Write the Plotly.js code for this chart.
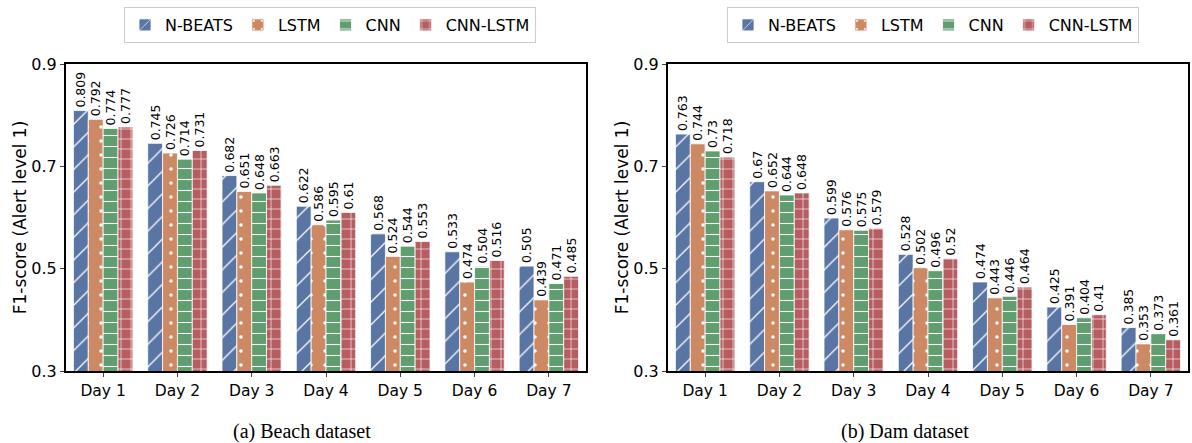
<!DOCTYPE html>
<html><head><meta charset="utf-8">
<script src="https://cdn.plot.ly/plotly-3.0.1.min.js"></script>
<style>body{margin:0;background:#fff}#c{width:1192px;height:443px}</style>
</head><body><div id="c"></div>
<script>
const days = ["Day 1","Day 2","Day 3","Day 4","Day 5","Day 6","Day 7"];
const models = ["N-BEATS","LSTM","CNN","CNN-LSTM"];
const beachNBEATS = [0.809,0.745,0.682,0.622,0.568,0.533,0.505];
const beachLSTM = [0.792,0.726,0.651,0.586,0.524,0.474,0.439];
const beachCNN = [0.774,0.714,0.648,0.595,0.544,0.504,0.471];
const beachCNNLSTM = [0.777,0.731,0.663,0.61,0.553,0.516,0.485];
const damNBEATS = [0.763,0.67,0.599,0.528,0.474,0.425,0.385];
const damLSTM = [0.744,0.652,0.576,0.502,0.443,0.391,0.353];
const damCNN = [0.73,0.644,0.575,0.496,0.446,0.404,0.373];
const damCNNLSTM = [0.718,0.648,0.579,0.52,0.464,0.41,0.361];
const yTicks = [0.3,0.5,0.7,0.9];

const colors = ["#5975A4","#CC8963","#5F9E6E","#B55D60"];
const shapes = ["/",".","-","+"];
const psize = [16,14,11,10];
const psolid = [0.08,0.05,0.1,0.12];
const beach = [beachNBEATS,beachLSTM,beachCNN,beachCNNLSTM];
const dam = [damNBEATS,damLSTM,damCNN,damCNNLSTM];

const traces = [];
function add(sets, xa, ya, leg){
  sets.forEach((vals,i)=>{
    traces.push({
      type:"bar", x:days, y:vals, name:models[i], xaxis:xa, yaxis:ya, legend:leg,
      text:vals.map(v=>String(v)), textposition:"outside", textangle:-90, constraintext:"none",
      textfont:{family:"DejaVu Sans", size:12.5, color:"#000"},
      marker:{color:colors[i], line:{color:"#ffffff", width:0.8},
        pattern:{shape:shapes[i], fgcolor:"#ffffff", bgcolor:colors[i], size:psize[i], solidity:psolid[i]}}
    });
  });
}
add(beach,"x","y","legend");
add(dam,"x2","y2","legend2");

const W = 1192-66-4;
const axisY = {range:[0.3,0.9], tickvals:yTicks, ticktext:yTicks.map(v=>v.toFixed(1)),
  showline:true, linecolor:"#000", linewidth:2, mirror:true, ticks:"outside", ticklen:4,
  showgrid:false, zeroline:false, tickfont:{family:"DejaVu Sans", size:16, color:"#000"},
  title:{text:"F1-score (Alert level 1)", font:{family:"DejaVu Sans", size:17, color:"#000"}, standoff:0}};
const axisX = {showline:true, linecolor:"#000", linewidth:2, mirror:true, ticks:"outside", ticklen:4,
  range:[-0.5,6.5], tickfont:{family:"DejaVu Sans", size:15.5, color:"#000"}, showgrid:false};
const legendBase = {orientation:"h", y:(371-7)/307, yanchor:"top", xanchor:"center",
  bordercolor:"#ccc", borderwidth:1, bgcolor:"#fff",
  font:{family:"DejaVu Sans", size:16, color:"#000"}};
const layout = {
  width:1192, height:443, margin:{l:66,r:4,t:64,b:72,autoexpand:false},
  paper_bgcolor:"#fff", plot_bgcolor:"#fff",
  barmode:"group", bargap:0.2, bargroupgap:0,
  xaxis:Object.assign({domain:[0,(586-66)/W], anchor:"y"}, axisX),
  xaxis2:Object.assign({domain:[(668-66)/W,1], anchor:"y2"}, axisX),
  yaxis:Object.assign({anchor:"x"}, axisY),
  yaxis2:Object.assign({anchor:"x2"}, axisY),
  legend:Object.assign({x:(330-66)/W}, legendBase),
  legend2:Object.assign({x:(933-66)/W}, legendBase),
  annotations:[
    {text:"(a) Beach dataset", xref:"paper", yref:"paper", x:(302-66)/W, y:(371-431)/307, xanchor:"center", yanchor:"middle", showarrow:false,
     font:{family:"Liberation Serif", size:20, color:"#000"}},
    {text:"(b) Dam dataset", xref:"paper", yref:"paper", x:(905-66)/W, y:(371-431)/307, xanchor:"center", yanchor:"middle", showarrow:false,
     font:{family:"Liberation Serif", size:20, color:"#000"}}
  ]
};
Plotly.newPlot("c", traces, layout, {displayModeBar:false});
</script></body></html>
